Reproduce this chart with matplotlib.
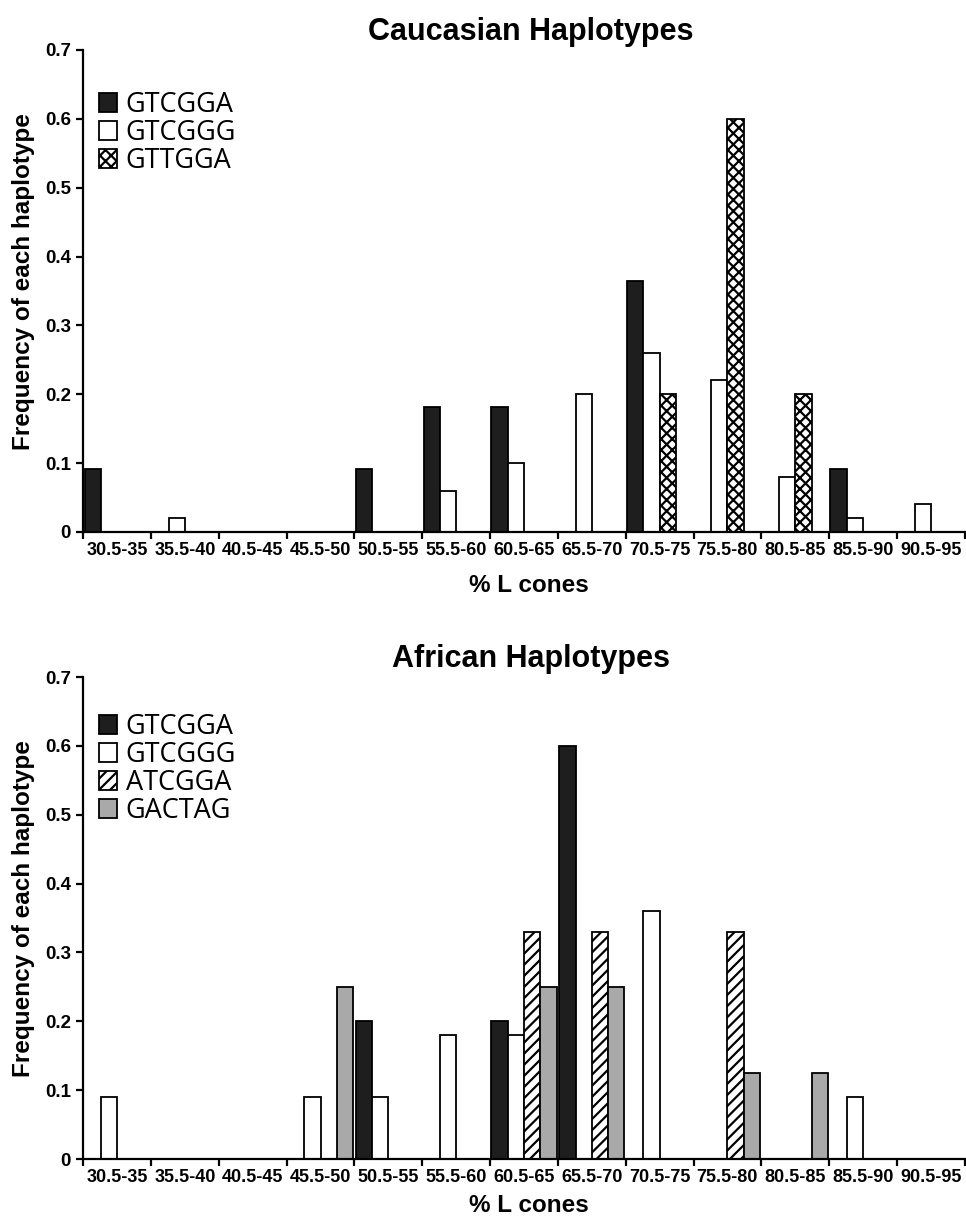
import matplotlib
matplotlib.use("Agg")
import matplotlib.pyplot as plt
from matplotlib import font_manager
import numpy as np

categories = ["30.5-35", "35.5-40", "40.5-45", "45.5-50", "50.5-55", "55.5-60",
              "60.5-65", "65.5-70", "70.5-75", "75.5-80", "80.5-85", "85.5-90", "90.5-95"]

# Caucasian haplotypes
cau_labels = ["GTCGGA", "GTCGGG", "GTTGGA"]
cau_GTCGGA = [0.091, 0, 0, 0, 0.091, 0.182, 0.182, 0, 0.364, 0, 0, 0.091, 0]
cau_GTCGGG = [0, 0.02, 0, 0, 0, 0.06, 0.10, 0.20, 0.26, 0.22, 0.08, 0.02, 0.04]
cau_GTTGGA = [0, 0, 0, 0, 0, 0, 0, 0, 0.20, 0.60, 0.20, 0, 0]

# African haplotypes
afr_labels = ["GTCGGA", "GTCGGG", "ATCGGA", "GACTAG"]
afr_GTCGGA = [0, 0, 0, 0, 0.20, 0, 0.20, 0.60, 0, 0, 0, 0, 0]
afr_GTCGGG = [0.09, 0, 0, 0.09, 0.09, 0.18, 0.18, 0, 0.36, 0, 0, 0.09, 0]
afr_ATCGGA = [0, 0, 0, 0, 0, 0, 0.33, 0.33, 0, 0.33, 0, 0, 0]
afr_GACTAG = [0, 0, 0, 0.25, 0, 0, 0.25, 0.25, 0, 0.125, 0.125, 0, 0]

yticks = [0, 0.1, 0.2, 0.3, 0.4, 0.5, 0.6, 0.7]
ytick_labels = ["0", "0.1", "0.2", "0.3", "0.4", "0.5", "0.6", "0.7"]

avail = {f.name for f in font_manager.fontManager.ttflist}
narrow = "Liberation Sans Narrow" if "Liberation Sans Narrow" in avail else "Liberation Sans"

plt.rcParams["font.family"] = ["Liberation Sans", "DejaVu Sans"]
plt.rcParams["hatch.linewidth"] = 1.6

fig = plt.figure(figsize=(9.66, 12.19), dpi=100)

BLACK = "#1e1e1e"
GREY = "#a9a9a9"
fills = [BLACK, "white", "white", GREY]

W = 0.24
OFF = 0.02


def panel(rect, title, series, labels, hatches, leg_y, xlabpad):
    ax = fig.add_axes(rect)
    x = np.arange(len(categories))
    for k, (vals, lab) in enumerate(zip(series, labels)):
        ax.bar(x + OFF + k * W, vals, width=W, align="edge",
               color=fills[k], edgecolor="black", linewidth=1.3,
               hatch=hatches[k], label=lab)
    ax.set_xlim(0, len(categories))
    ax.set_ylim(0, 0.7)
    ax.set_yticks(yticks)
    ax.set_yticklabels(ytick_labels, fontsize=13.5, fontweight="bold", family=narrow)
    ax.set_xticks(np.arange(len(categories) + 1))
    ax.set_xticklabels([])
    ax.set_xticks(x + 0.5, minor=True)
    ax.set_xticklabels(categories, minor=True, fontsize=13, fontweight="bold")
    ax.tick_params(axis="x", which="minor", length=0, pad=7)
    ax.tick_params(axis="x", which="major", length=5, width=1.6, direction="out")
    ax.tick_params(axis="y", length=5, width=1.6, direction="out", pad=4)
    for s in ["top", "right"]:
        ax.spines[s].set_visible(False)
    for s in ["left", "bottom"]:
        ax.spines[s].set_linewidth(1.6)
    ax.set_title(title, fontsize=22, fontweight="bold", pad=7, x=0.508)
    ax.set_xlabel("% L cones", fontsize=17.5, fontweight="bold", labelpad=xlabpad)
    ax.xaxis.label.set_x(0.505)
    ax.set_ylabel("Frequency of each haplotype", fontsize=17.5, fontweight="bold", labelpad=7)
    ax.yaxis.label.set_y(0.52)
    ax.legend(loc="upper left", bbox_to_anchor=(0.005, leg_y), frameon=False,
              prop={"family": "Open Sans", "size": 19.5},
              handlelength=0.7, handleheight=0.7, handletextpad=0.3,
              labelspacing=0.0, borderaxespad=0)
    return ax


panel([0.0862, 0.5636, 0.9125, 0.3954], "Caucasian Haplotypes",
      [cau_GTCGGA, cau_GTCGGG, cau_GTTGGA], cau_labels, [None, None, "xxx"], 0.937, 11)
panel([0.0862, 0.0492, 0.9125, 0.3954], "African Haplotypes",
      [afr_GTCGGA, afr_GTCGGG, afr_ATCGGA, afr_GACTAG], afr_labels,
      [None, None, "///", None], 0.948, 6)

fig.savefig("out.png", dpi=100)
